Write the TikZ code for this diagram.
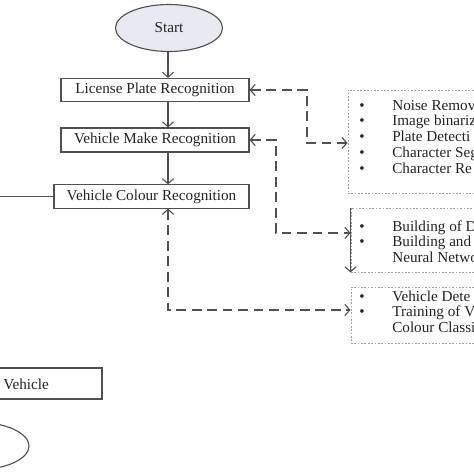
\documentclass[tikz,border=0pt]{standalone}
\usepackage{fontspec}
\setmainfont{Liberation Serif}
\usetikzlibrary{shapes.geometric,arrows.meta}
\definecolor{linegray}{RGB}{80,80,80}
\definecolor{dotgray}{RGB}{160,160,160}
\definecolor{startfill}{RGB}{232,234,242}
\definecolor{textgray}{RGB}{35,35,35}

\begin{document}
\begin{tikzpicture}[x=0.025cm,y=-0.025cm,
    font=\fontsize{10.8}{11.2}\selectfont, text=textgray,
    >={Straight Barb[length=3.5pt,width=8pt]}]

        \useasboundingbox (0,0) rectangle (474,474);

        \begin{scope}[every node/.style={draw=linegray,line width=0.8pt}]
          \node[ellipse,fill=startfill,minimum width=2.675cm,minimum height=1.175cm] (start) at (169,28) {Start};
          \node[minimum width=4.7cm,minimum height=0.5cm] (lpr) at (155,90) {License Plate Recognition};
          \node[minimum width=4.7cm,minimum height=0.6cm] (vmr) at (155,140) {Vehicle Make Recognition};
          \node[minimum width=4.875cm,minimum height=0.575cm] (vcr) at (151.5,196.5) {Vehicle Colour Recognition};
          \node[minimum width=4.8cm,minimum height=0.775cm] (outbox) at (6,383.5) {};
          \node[ellipse,minimum width=2.7cm,minimum height=1.2cm] (stop) at (-25,446) {};
        \end{scope}

        \node[anchor=west,inner sep=0] (outtext) at (3,384) {Vehicle};

        \begin{scope}[every node/.style={draw=dotgray,line width=0.6pt,dash pattern=on 1.2pt off 1.2pt}]
          \node[minimum width=5.3cm,minimum height=2.575cm] (box1) at (454,141.5) {};
          \node[minimum width=5.225cm,minimum height=1.6cm] (box2) at (455.5,240) {};
          \node[minimum width=5.225cm,minimum height=1.4cm] (box3) at (455.5,315) {};
        \end{scope}

        \begin{scope}[every node/.style={anchor=base west,inner sep=0}]
          \node (list1) at (359,110) {\begin{tabular}[t]{@{}p{0.825cm}@{}l@{}}
            \textbullet & Noise Remov\\
            \textbullet & Image binariz\\
            \textbullet & Plate Detecti\\
            \textbullet & Character Seg\\
            \textbullet & Character Re
          \end{tabular}};
          \node (list2) at (359,231) {\begin{tabular}[t]{@{}p{0.825cm}@{}l@{}}
            \textbullet & Building of D\\
            \textbullet & Building and\\
                        & Neural Netwo
          \end{tabular}};
          \node (list3) at (359,301) {\begin{tabular}[t]{@{}p{0.825cm}@{}l@{}}
            \textbullet & Vehicle Dete\\
            \textbullet & Training of V\\
                        & Colour Classi
          \end{tabular}};
        \end{scope}

        \coordinate (k1) at (307,143);
        \coordinate (k2) at (276,233);
        \coordinate (k3) at (168,310);
        \coordinate (lft) at (-5,196.5);

        \begin{scope}[draw=linegray,line width=0.8pt]
          \draw[->] (start.south -| k3) -- (lpr.north -| k3);
          \draw[->] (lpr.south -| k3) -- (vmr.north -| k3);
          \draw[->] (vmr.south -| k3) -- (vcr.north -| k3);
          \draw (vcr.west) -- (lft);
          \draw[->] (box2.north west) -- (box2.south west);

          \begin{scope}[dash pattern=on 7pt off 4pt]
            \draw[<->] (lpr.east) -| (k1) -- (k1 -| box1.west);
            \draw[<->] (vmr.east) -| (k2) -- (k2 -| box2.west);
            \draw[<->] (vcr.south -| k3) -- (k3) -- (k3 -| box3.west);
          \end{scope}
        \end{scope}

      \end{tikzpicture}
\end{document}
